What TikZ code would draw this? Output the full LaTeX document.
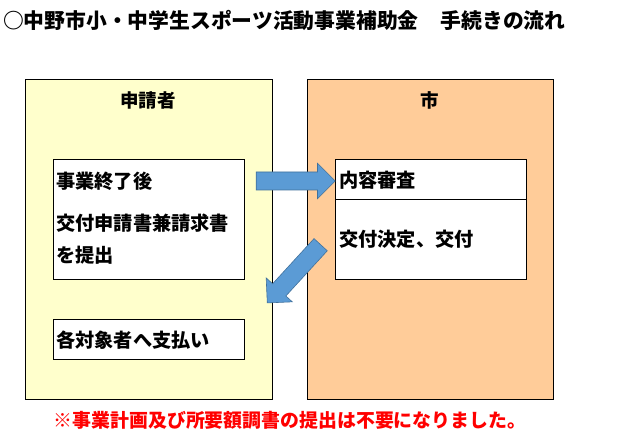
\documentclass[tikz,border=0pt]{standalone}
\usepackage{fontspec}
\setmainfont{Noto Sans CJK JP}
\usetikzlibrary{shapes.arrows}
\definecolor{applicant}{HTML}{FFFFCC}
\definecolor{city}{HTML}{FFCC99}
\definecolor{flow}{HTML}{5B9BD5}
\definecolor{flowline}{HTML}{41719C}
\begin{document}
\begin{tikzpicture}[x=1pt, y=1pt,
    lane/.style={draw, line width=0.9pt, anchor=south west, inner sep=0},
    task/.style={draw, fill=white, line width=0.9pt, anchor=south west, inner sep=0},
    label/.style={anchor=west, inner sep=0, font=\fontsize{19.2}{19.2}\selectfont\bfseries},
    head/.style={inner sep=0, font=\fontsize{18.5}{18.5}\selectfont\bfseries},
    flowarrow/.style={single arrow, fill=flow, draw=flowline, line width=0.6pt, minimum width=0, minimum height=79pt, inner xsep=0, inner ysep=8.7pt, single arrow head extend=8.7pt}]
  \useasboundingbox (0, 0) rectangle (627, 442);
  \node[anchor=west, inner sep=0, font=\fontsize{20.8}{20.8}\selectfont\bfseries] (title) at (3, 422) {○中野市小・中学生スポーツ活動事業補助金\hspace{1.05em}手続きの流れ};
  \node[lane, fill=applicant, minimum width=246.4pt, minimum height=320pt] (applicant) at (25.3, 41.7) {};
  \node[lane, fill=city, minimum width=246pt, minimum height=320pt] (city) at (307.3, 41.7) {};
  \node[head] (applicanthead) at (148, 342) {申請者};
  \node[head] (cityhead) at (430, 342) {市};
  \node[task, minimum width=190.4pt, minimum height=120.3pt] (apply) at (53.3, 161.7) {};
  \node[task, minimum width=190.4pt, minimum height=40pt] (pay) at (53.3, 81.7) {};
  \node[task, minimum width=190.4pt, minimum height=40.3pt] (review) at (335.3, 241.7) {};
  \node[task, minimum width=190.4pt, minimum height=80pt] (grant) at (335.3, 161.7) {};
  \node[label] (applytext1) at (56, 261) {事業終了後};
  \node[label] (applytext2) at (56, 218.7) {交付申請書兼請求書};
  \node[label] (applytext3) at (56, 187) {を提出};
  \node[label] (paytext) at (56, 102) {各対象者へ支払い};
  \node[label] (reviewtext) at (339, 261.3) {内容審査};
  \node[label] (granttext) at (339, 203) {交付決定、交付};
  \node[flowarrow] (submit) at (291.2, 261) {};
  \node[flowarrow, rotate=227.5] (deliver) at (297, 171.5) {};
  \node[inner sep=0, text=red, font=\fontsize{18.9}{18.9}\selectfont\bfseries] (note) at (290, 22) {※事業計画及び所要額調書の提出は不要になりました。};
\end{tikzpicture}
\end{document}
